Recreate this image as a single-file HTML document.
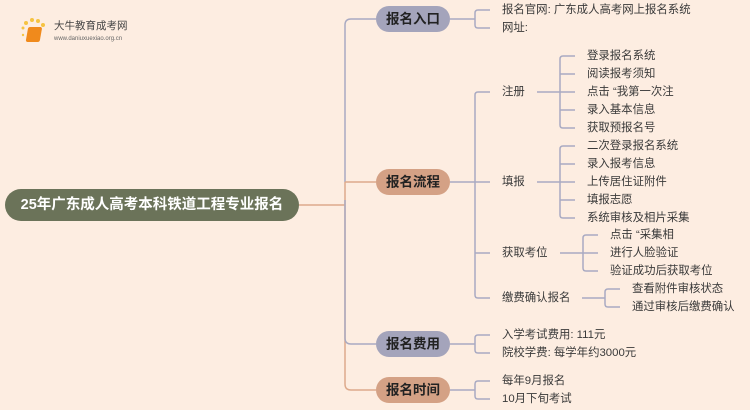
<!DOCTYPE html>
<html><head><meta charset="utf-8"><style>
body{margin:0;background:#FDEDE1;}
svg{display:block}
text{font-family:"Liberation Sans","Noto Sans CJK SC",sans-serif;}
.t{font-size:11.4px;fill:#3a3a3a;dominant-baseline:central}
.p{font-size:13.5px;font-weight:bold;fill:#222;text-anchor:middle;dominant-baseline:central}
.g{stroke:#A9AAC2;stroke-width:1.5;fill:none}
.b{stroke:#DDAA8C;stroke-width:1.5;fill:none}
</style></head><body>
<svg width="750" height="410" viewBox="0 0 750 410">
<rect width="750" height="410" fill="#FDEDE1"/>
<g>
<circle cx="23" cy="28" r="1.5" fill="#F5C342"/><circle cx="26" cy="23" r="2" fill="#F5C342"/><circle cx="32" cy="20" r="2" fill="#F5C342"/><circle cx="38" cy="21" r="2" fill="#F5C342"/><circle cx="43" cy="25" r="2" fill="#F5C342"/><circle cx="23" cy="35" r="1.2" fill="#F5C342"/>
<rect x="33" y="27" width="14" height="15" rx="2" fill="#F08A1C" transform="skewX(-10)"/>
<text x="54" y="29" style="font-size:10.5px;fill:#444">大牛教育成考网</text>
<text x="54" y="40" style="font-size:6px;fill:#666">www.daniuxuexiao.org.cn</text>
</g>
<rect x="5" y="189" width="294" height="32" rx="16" fill="#6B7359"/>
<text x="152" y="205" class="p" style="fill:#fff;font-size:14.5px">25年广东成人高考本科铁道工程专业报名</text>
<path class="b" d="M299 205H345"/>
<path class="g" d="M376 19H351Q345 19 345 25V182"/>
<path class="b" d="M345 182V384Q345 390 351 390H376"/>
<path class="b" d="M345 182H376"/>
<path class="g" d="M345 200V338Q345 344 351 344H376"/>
<rect x="376" y="6" width="74" height="26" rx="13" fill="#A4A4BB"/><text x="413" y="19" class="p">报名入口</text>
<rect x="376" y="169" width="74" height="26" rx="13" fill="#D4A185"/><text x="413" y="182" class="p">报名流程</text>
<rect x="376" y="331" width="74" height="26" rx="13" fill="#A4A4BB"/><text x="413" y="344" class="p">报名费用</text>
<rect x="376" y="377" width="74" height="26" rx="13" fill="#D4A185"/><text x="413" y="390" class="p">报名时间</text>
<path class="g" d="M450 19H475M490 10H478Q475 10 475 13V25Q475 28 478 28H490"/>
<text x="502" y="10" class="t">报名官网: 广东成人高考网上报名系统</text>
<text x="502" y="28" class="t">网址:</text>
<path class="g" d="M450 182H475M490 92H478Q475 92 475 95V295Q475 298 478 298H490M475 182H490M475 253H490"/>
<text x="502" y="92" class="t">注册</text><text x="502" y="182" class="t">填报</text>
<text x="502" y="253" class="t">获取考位</text><text x="502" y="298" class="t">缴费确认报名</text>
<path class="g" d="M537 92H560M575 56H563Q560 56 560 59V125Q560 128 563 128H575M560 74H575M560 92H575M560 110H575"/>
<text x="587" y="56" class="t">登录报名系统</text><text x="587" y="74" class="t">阅读报考须知</text><text x="587" y="92" class="t">点击 “我第一次注</text><text x="587" y="110" class="t">录入基本信息</text><text x="587" y="128" class="t">获取预报名号</text>
<path class="g" d="M537 182H560M575 146H563Q560 146 560 149V215Q560 218 563 218H575M560 164H575M560 182H575M560 200H575"/>
<text x="587" y="146" class="t">二次登录报名系统</text><text x="587" y="164" class="t">录入报考信息</text><text x="587" y="182" class="t">上传居住证附件</text><text x="587" y="200" class="t">填报志愿</text><text x="587" y="218" class="t">系统审核及相片采集</text>
<path class="g" d="M560 253H583M598 235H586Q583 235 583 238V268Q583 271 586 271H598M583 253H598"/>
<text x="610" y="235" class="t">点击 “采集相</text><text x="610" y="253" class="t">进行人脸验证</text><text x="610" y="271" class="t">验证成功后获取考位</text>
<path class="g" d="M582 298H605M620 289H608Q605 289 605 292V304Q605 307 608 307H620"/>
<text x="632" y="289" class="t">查看附件审核状态</text><text x="632" y="307" class="t">通过审核后缴费确认</text>
<path class="g" d="M450 344H475M490 335H478Q475 335 475 338V350Q475 353 478 353H490"/>
<text x="502" y="335" class="t">入学考试费用: 111元</text><text x="502" y="353" class="t">院校学费: 每学年约3000元</text>
<path class="g" d="M450 390H475M490 381H478Q475 381 475 384V396Q475 399 478 399H490"/>
<text x="502" y="381" class="t">每年9月报名</text><text x="502" y="399" class="t">10月下旬考试</text>
</svg>
</body></html>
